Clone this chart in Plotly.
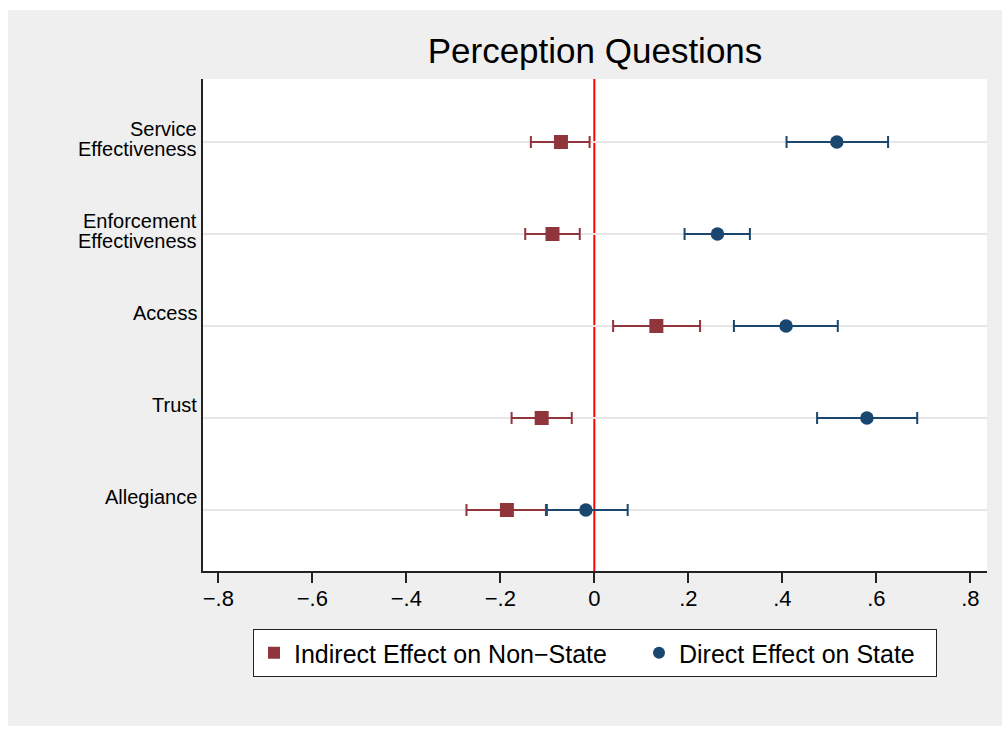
import plotly.graph_objects as go

# ---- data ----
categories = [["Service", "Effectiveness"], ["Enforcement", "Effectiveness"], ["Access"], ["Trust"], ["Allegiance"]]
cat_pos = [1, 2, 3, 4, 5]

indirect_est = [-0.071, -0.089, 0.132, -0.112, -0.186]
indirect_lo = [-0.135, -0.147, 0.040, -0.176, -0.272]
indirect_hi = [-0.010, -0.031, 0.225, -0.048, -0.103]

direct_est = [0.516, 0.262, 0.408, 0.580, -0.018]
direct_lo = [0.409, 0.192, 0.297, 0.474, -0.101]
direct_hi = [0.625, 0.331, 0.518, 0.687, 0.071]

x_ticks = [-0.8, -0.6, -0.4, -0.2, 0, 0.2, 0.4, 0.6, 0.8]
x_ticklabels = ["\u2212.8", "\u2212.6", "\u2212.4", "\u2212.2", "0", ".2", ".4", ".6", ".8"]

series_names = ["Indirect Effect on Non\u2212State", "Direct Effect on State"]
RED = "#90353B"
NAVY = "#1A476F"
FONT = "Liberation Sans, Arial, Helvetica, sans-serif"

fig = go.Figure()

def add_series(name, est, lo, hi, color, symbol, size, lw):
    plus = [h - e for h, e in zip(hi, est)]
    minus = [e - l for e, l in zip(est, lo)]
    fig.add_trace(go.Scatter(
        x=est, y=cat_pos, mode="markers", name=name, legendwidth=lw,
        marker=dict(color=color, symbol=symbol, size=size, line=dict(width=0)),
        error_x=dict(type="data", array=plus, arrayminus=minus, symmetric=False,
                     color=color, thickness=2, width=6),
    ))

add_series(series_names[0], indirect_est, indirect_lo, indirect_hi, RED, "square", 14, 340)
add_series(series_names[1], direct_est, direct_lo, direct_hi, NAVY, "circle", 13.5, 252)

# plot geometry (pixels)
W, H = 1002, 734
L, R, T, B = 203, 15, 79, 163
pw, ph = W - L - R, H - T - B

def px2paper_x(px):
    return (px - L) / pw

def py2paper_y(py):
    return (H - B - py) / ph

shapes = [
    # light grey outer background
    dict(type="rect", xref="paper", yref="paper",
         x0=px2paper_x(8), x1=px2paper_x(1010), y0=py2paper_y(726), y1=py2paper_y(10),
         fillcolor="#EFEFEF", line=dict(width=0), layer="below"),
    # white plot region
    dict(type="rect", xref="paper", yref="paper", x0=0, x1=1, y0=0, y1=1,
         fillcolor="white", line=dict(width=0), layer="below"),
    # zero reference line
    dict(type="line", xref="x", yref="paper", x0=0, x1=0, y0=0, y1=1,
         line=dict(color="#FF0000", width=2), layer="between"),
]

annotations = []
for pos, lines in zip(cat_pos, categories):
    shifts = [13] if len(lines) == 1 else [13, -7]
    for txt, s in zip(lines, shifts):
        annotations.append(dict(
            x=0, xref="paper", y=pos, yref="y", text=txt, showarrow=False,
            xanchor="right", yanchor="middle", xshift=-4, yshift=s,
            font=dict(family=FONT, size=20, color="black"),
        ))

fig.update_layout(
    width=W, height=H,
    margin=dict(l=L, r=R, t=T, b=B, pad=0),
    paper_bgcolor="white", plot_bgcolor="rgba(0,0,0,0)",
    font=dict(family=FONT, color="black"),
    title=dict(text="Perception Questions", x=0.5, xref="paper", xanchor="center",
               y=1 - 51 / H, yanchor="middle",
               font=dict(family=FONT, size=35, color="black")),
    xaxis=dict(range=[-0.8326, 0.8355], tickvals=x_ticks, ticktext=x_ticklabels,
               showgrid=False, zeroline=False, showline=True, linecolor="#222",
               linewidth=2, ticks="outside", ticklen=10, tickwidth=1.5, tickcolor="#222",
               ticklabelstandoff=-3,
               tickfont=dict(family=FONT, size=22, color="black")),
    yaxis=dict(range=[5.663, 0.315], tickvals=cat_pos, showticklabels=False,
               showgrid=True, gridcolor="#E6E6E6", gridwidth=1.5, zeroline=False,
               showline=True, linecolor="#222", linewidth=2, ticks=""),
    shapes=shapes,
    annotations=annotations,
    showlegend=True,
    legend=dict(orientation="h", x=px2paper_x(253), xanchor="left", y=py2paper_y(629), yanchor="top",
                bgcolor="white", bordercolor="#222", borderwidth=1,
                font=dict(family=FONT, size=25, color="black"),
                entrywidthmode="pixels", itemsizing="constant"),
)

fig.write_html("out.html")
